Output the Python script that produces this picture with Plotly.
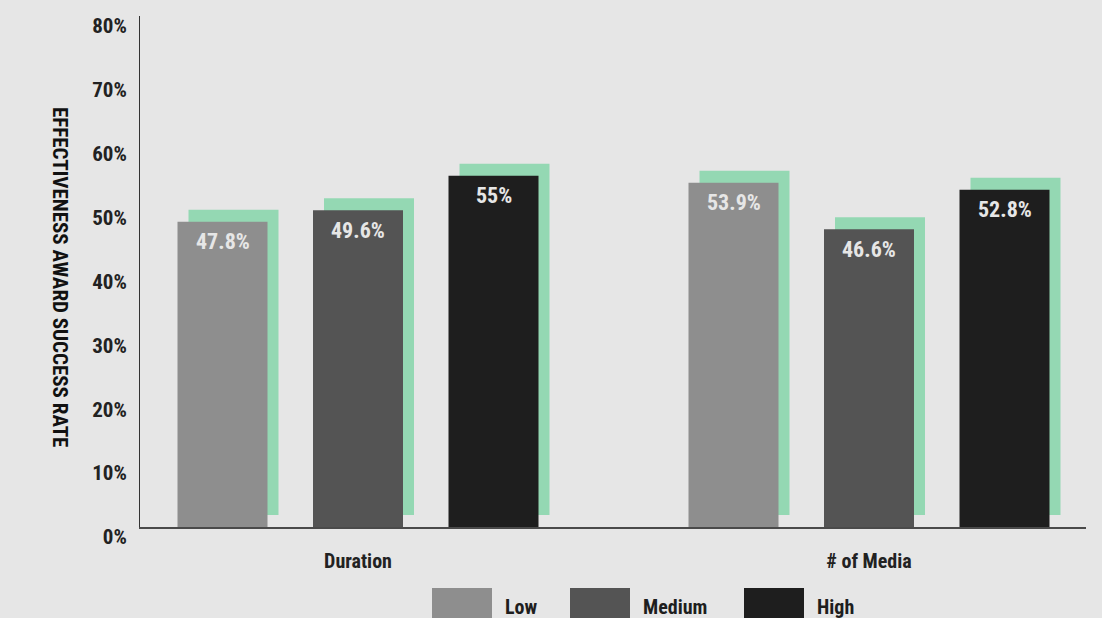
import plotly.graph_objects as go

# data
categories = ['Duration', '# of Media']
levels = ['Low', 'Medium', 'High']
low = [47.8, 53.9]
medium = [49.6, 46.6]
high = [55.0, 52.8]
y_ticks = [0, 10, 20, 30, 40, 50, 60, 70, 80]

series = [low, medium, high]
colors = ['#8e8e8e', '#545454', '#1e1e1e']
shadow_color = '#94d8b3'
bg = '#e6e6e6'
FONT = 'Liberation Sans Narrow, Roboto Condensed, DejaVu Sans Condensed, Arial Narrow, sans-serif'

W, H = 1102, 618
L, R, T, B = 140, 16, 16, 91

# bar geometry in category units (one category step = 511px)
STEP = 511.0
BAR_W = 90 / STEP
PITCH = 135.5 / STEP
SHADOW_DX = 11 / STEP
SHADOW_LIFT = 1.88


def px_x(px):
    return (px - L) / (W - L - R)


def px_y(py):
    return (H - B - py) / (H - T - B)


fig = go.Figure()

# green offset "shadows" behind each bar
for i, vals in enumerate(series):
    left = (i - 1) * PITCH - BAR_W / 2
    fig.add_trace(go.Bar(
        x=categories, y=vals, base=SHADOW_LIFT,
        width=BAR_W, offset=left + SHADOW_DX,
        marker=dict(color=shadow_color, line=dict(width=0)),
        hoverinfo='skip', showlegend=False
    ))

for i, (name, vals) in enumerate(zip(levels, series)):
    left = (i - 1) * PITCH - BAR_W / 2
    fig.add_trace(go.Bar(
        x=categories, y=vals, name=name,
        width=BAR_W, offset=left,
        marker=dict(color=colors[i], line=dict(width=0)),
        showlegend=False
    ))
    for j, v in enumerate(vals):
        fig.add_annotation(
            x=j + (i - 1) * PITCH, y=v, text=f'{v:g}%',
            showarrow=False, yshift=-20, xanchor='center', yanchor='middle',
            font=dict(family=FONT, size=22, color='#e6e6e6', weight='bold')
        )

# legend drawn by hand (big swatches)
legend_x = [432, 570, 744]
for i, name in enumerate(levels):
    x0 = legend_x[i]
    fig.add_shape(type='rect', xref='paper', yref='paper',
                  x0=px_x(x0), x1=px_x(x0 + 60), y0=px_y(618), y1=px_y(588),
                  fillcolor=colors[i], line=dict(width=0))
    fig.add_annotation(xref='paper', yref='paper', x=px_x(x0 + 71), y=px_y(607),
                       text=name, showarrow=False, xanchor='left', yanchor='middle',
                       font=dict(family=FONT, size=20, color='#1e1e1e', weight='bold'))

fig.add_annotation(xref='paper', yref='paper', x=px_x(60), y=px_y(277),
                   text='EFFECTIVENESS AWARD SUCCESS RATE', textangle=90,
                   showarrow=False, xanchor='center', yanchor='middle',
                   font=dict(family=FONT, size=21, color='#111111', weight='bold'))

fig.update_layout(
    barmode='overlay',
    width=W, height=H,
    margin=dict(l=L, r=R, t=T, b=B),
    paper_bgcolor=bg, plot_bgcolor=bg,
    font=dict(family=FONT, color='#222222', weight='bold'),
    xaxis=dict(
        type='category', range=[(L - 358) / STEP, (W - R - 358) / STEP],
        showline=True, linecolor='#4a4a4a', linewidth=2,
        showgrid=False, ticks='', ticklabelstandoff=15,
        tickfont=dict(family=FONT, size=20, color='#222222', weight='bold'),
        fixedrange=True
    ),
    yaxis=dict(
        range=[0, 80], tickvals=y_ticks, ticktext=[f'{v}%' for v in y_ticks],
        showline=True, linecolor='#333333', linewidth=1,
        showgrid=False, zeroline=False, ticks='',
        ticklabelstandoff=8, ticklabelshift=10,
        tickfont=dict(family=FONT, size=21, color='#222222', weight='bold'),
        fixedrange=True
    ),
    showlegend=False
)

fig.write_html('out.html', config={'displayModeBar': False},
               post_script="document.body.style.margin='0';")
